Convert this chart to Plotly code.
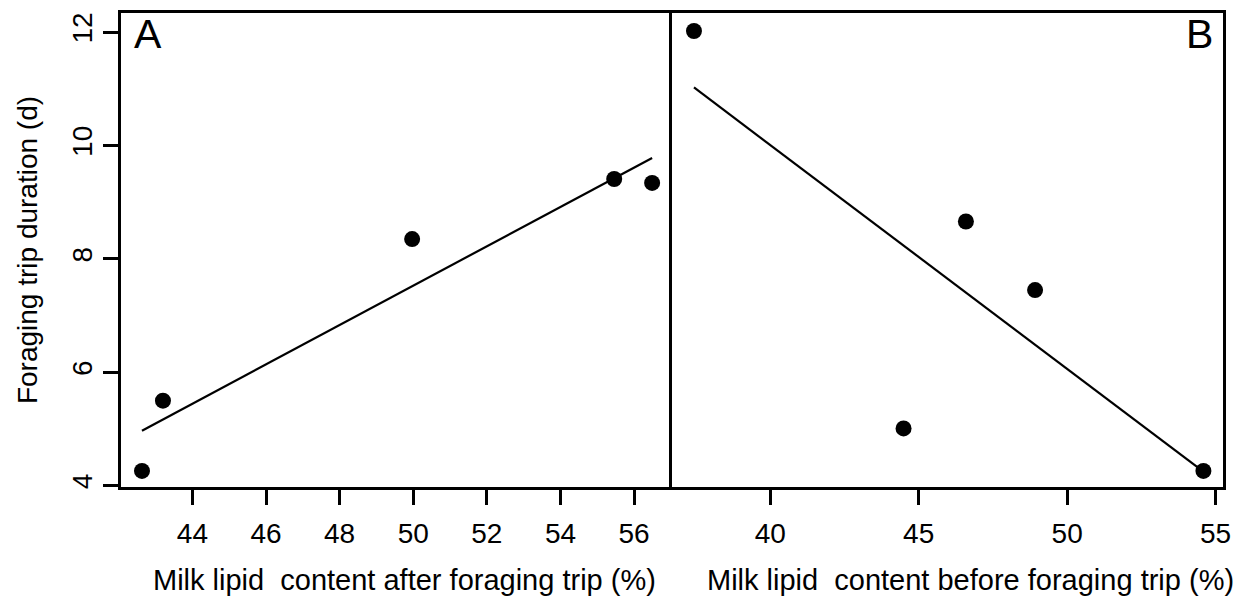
import numpy as np
import plotly.graph_objects as go

# Panel A: milk lipid content after foraging trip (%) vs trip duration (d)
lipid_after = [42.63, 43.2, 49.97, 55.46, 56.49]
trip_a = [4.26, 5.50, 8.35, 9.41, 9.34]

# Panel B: milk lipid content before foraging trip (%) vs trip duration (d)
lipid_before = [37.43, 44.49, 46.59, 48.92, 54.59]
trip_b = [12.02, 5.01, 8.66, 7.45, 4.26]

ticks_a = [44, 46, 48, 50, 52, 54, 56]
ticks_b = [40, 45, 50, 55]
ticks_y = [4, 6, 8, 10, 12]

title_a = "Milk lipid  content after foraging trip (%)"
title_b = "Milk lipid  content before foraging trip (%)"
title_y = "Foraging trip duration (d)"

FONT = "Liberation Sans, Arial, sans-serif"


def fit_line(x, y):
    slope, intercept = np.polyfit(x, y, 1)
    xs = np.array([min(x), max(x)])
    return xs, slope * xs + intercept


fig = go.Figure()

fa_x, fa_y = fit_line(lipid_after, trip_a)
fb_x, fb_y = fit_line(lipid_before, trip_b)

fig.add_trace(go.Scatter(x=fa_x, y=fa_y, mode="lines", line=dict(color="black", width=2.2),
                         xaxis="x", yaxis="y", showlegend=False, hoverinfo="skip"))
fig.add_trace(go.Scatter(x=lipid_after, y=trip_a, mode="markers",
                         marker=dict(color="black", size=16), xaxis="x", yaxis="y", showlegend=False))
fig.add_trace(go.Scatter(x=fb_x, y=fb_y, mode="lines", line=dict(color="black", width=2.2),
                         xaxis="x2", yaxis="y2", showlegend=False, hoverinfo="skip"))
fig.add_trace(go.Scatter(x=lipid_before, y=trip_b, mode="markers",
                         marker=dict(color="black", size=16), xaxis="x2", yaxis="y2", showlegend=False))

tickfont = dict(family=FONT, size=28, color="black")
axis_common = dict(showline=True, linecolor="black", linewidth=2.5,
                   showgrid=False, zeroline=False, ticks="outside", ticklen=15,
                   tickwidth=2.5, tickcolor="black", tickfont=tickfont)

fig.update_layout(
    width=1238, height=593,
    margin=dict(l=113, r=23, t=2, b=114),
    paper_bgcolor="white", plot_bgcolor="white",
    font=dict(family=FONT, color="black"),
    xaxis=dict(domain=[0, 0.5], range=[42.06, 57.03], tickvals=ticks_a, mirror=True,
               ticklabelstandoff=5, anchor="y", **axis_common),
    xaxis2=dict(domain=[0.5, 1], range=[36.69, 55.25], tickvals=ticks_b, mirror=True,
                ticklabelstandoff=5, anchor="y2", **axis_common),
    yaxis=dict(domain=[0, 1], range=[3.977, 12.338], tickvals=ticks_y, tickangle=-90,
               mirror=False,
               title=dict(text=title_y,
                          font=dict(family=FONT, size=28, color="black"), standoff=22),
               anchor="x", **axis_common),
    yaxis2=dict(domain=[0, 1], matches="y", anchor="x2", showticklabels=False,
                showline=True, linecolor="black", linewidth=2.5, mirror=True,
                showgrid=False, zeroline=False, ticks=""),
    annotations=[
        dict(text="A", xref="x domain", yref="y domain", x=0.02, y=1.0,
             xanchor="left", yanchor="top", yshift=4, showarrow=False,
             font=dict(family=FONT, size=41, color="black")),
        dict(text="B", xref="x2 domain", yref="y2 domain", x=1.0, y=1.0,
             xanchor="right", yanchor="top", xshift=-8, yshift=4, showarrow=False,
             font=dict(family=FONT, size=41, color="black")),
        dict(text=title_a, xref="paper", yref="paper", x=0.2577, y=-0.197,
             xanchor="center", yanchor="middle", showarrow=False,
             font=dict(family=FONT, size=29, color="black")),
        dict(text=title_b, xref="paper", yref="paper", x=0.7713, y=-0.197,
             xanchor="center", yanchor="middle", showarrow=False,
             font=dict(family=FONT, size=29, color="black")),
    ],
)

fig.write_html("out.html")
